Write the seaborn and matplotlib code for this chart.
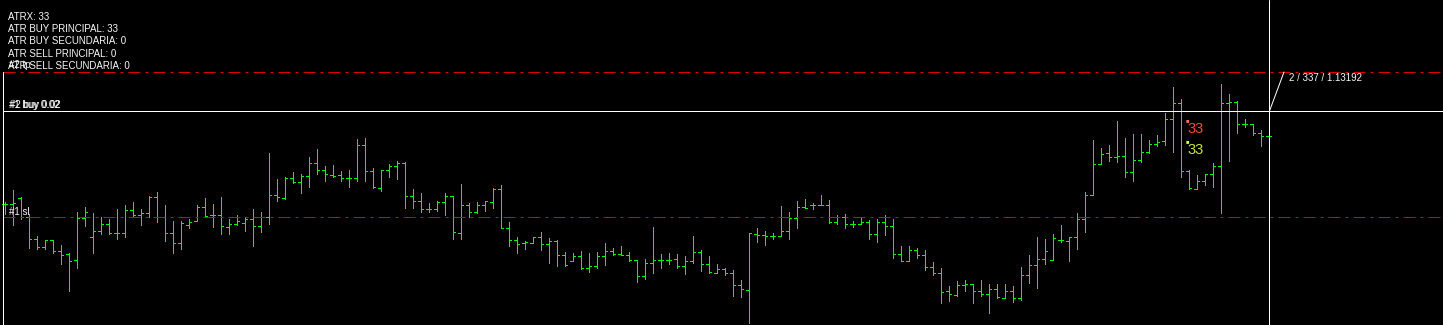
import numpy as np
import pandas as pd
import seaborn as sns
import matplotlib
matplotlib.use("Agg")
import matplotlib.pyplot as plt

# ---- data: prices in points (1 point = 0.00001) ----
high = [113101,113113,113106,113089,113067,113063,113063,113058,113050,113091,
        113096,113090,113086,113084,113094,113098,113101,113094,113107,113111,
        113098,113082,113082,113084,113098,113105,113099,113106,113084,113088,
        113086,113094,113091,113150,113124,113126,113131,113129,113146,113154,
        113137,113138,113132,113133,113164,113165,113135,113133,113139,113142,
        113141,113114,113110,113100,113102,113110,113107,113119,113100,113101,
        113102,113115,113118,113081,113066,113062,113066,113071,113065,113063,
        113051,113050,113052,113050,113051,113060,113055,113057,113051,113043,
        113044,113076,113049,113050,113049,113047,113067,113053,113047,113039,
        113035,113033,113023,113070,113075,113072,113070,113097,113091,113102,
        113104,113100,113108,113103,113088,113089,113082,113086,113083,113084,
        113088,113084,113057,113057,113055,113053,113041,113035,113017,113022,
        113023,113019,113023,113019,113019,113019,113017,113036,113048,113066,
        113064,113069,113078,113066,113090,113111,113163,113155,113158,113182,
        113165,113169,113169,113163,113168,113190,113216,113204,113133,113128,
        113129,113140,113219,113209,113202,113184,113179,113173,113167]
low = [113089,113078,113084,113055,113054,113054,113050,113039,113012,113035,
       113077,113050,113069,113069,113064,113066,113086,113078,113086,113081,
       113062,113050,113054,113075,113082,113086,113076,113069,113069,113078,
       113072,113057,113071,113079,113102,113104,113120,113110,113116,113129,
       113122,113126,113122,113116,113122,113122,113115,113112,113126,113124,
       113095,113095,113091,113091,113092,113088,113064,113064,113086,113090,
       113092,113095,113075,113057,113050,113054,113060,113053,113040,113037,
       113037,113042,113034,113031,113035,113038,113048,113048,113042,113021,
       113024,113030,113035,113039,113035,113029,113040,113032,113030,113030,
       113028,113007,113006,112980,113061,113058,113064,113067,113064,113075,
       113095,113094,113098,113080,113079,113075,113076,113079,113064,113061,
       113068,113045,113042,113042,113045,113033,113028,113000,113002,113007,
       113012,113000,113007,112990,113005,113005,113001,113003,113020,113015,
       113039,113043,113061,113042,113054,113071,113108,113139,113142,113141,
       113126,113122,113141,113150,113157,113158,113151,113126,113114,113114,
       113118,113116,113090,113142,113170,113176,113168,113157,113167]
open_ = [113099,113099,113105,113086,113064,113056,113063,113052,113049,113043,
         113085,113066,113072,113079,113070,113070,113093,113088,113090,113106,
         113086,113070,113060,113078,113082,113096,113088,113088,113076,113079,
         113080,113084,113077,113086,113108,113105,113125,113121,113127,113140,
         113133,113128,113128,113125,113125,113158,113132,113115,113133,113137,
         113140,113107,113102,113094,113094,113101,113107,113070,113098,113091,
         113098,113101,113114,113075,113063,113060,113060,113066,113059,113062,
         113048,113042,113047,113035,113037,113047,113052,113049,113048,113043,
         113027,113040,113043,113043,113044,113037,113042,113051,113039,113030,
         113034,113030,113018,113013,113069,113068,113067,113067,113072,113085,
         113096,113098,113098,113098,113081,113086,113079,113079,113081,113069,
         113081,113077,113049,113042,113053,113048,113036,113030,113012,113008,
         113018,113019,113012,113009,113014,113005,113012,113005,113028,113038,
         113044,113043,113063,113062,113066,113084,113108,113139,113150,113146,
         113147,113131,113143,113151,113159,113162,113184,113200,113132,113114,
         113122,113129,113137,113200,113201,113179,113179,113170,113167]
close = [113099,113100,113086,113064,113056,113063,113052,113048,113042,113085,
         113091,113072,113079,113070,113070,113093,113088,113090,113106,113086,
         113070,113060,113080,113081,113096,113087,113088,113077,113079,113082,
         113084,113077,113086,113108,113106,113125,113121,113127,113140,113133,
         113129,113127,113125,113125,113158,113132,113116,113133,113137,113140,
         113107,113102,113094,113094,113101,113107,113071,113098,113091,113098,
         113102,113114,113075,113063,113059,113061,113066,113059,113062,113048,
         113038,113047,113035,113037,113047,113052,113049,113048,113043,113027,
         113040,113043,113043,113043,113037,113042,113051,113039,113031,113034,
         113030,113018,113014,113070,113068,113067,113067,113072,113085,113096,
         113095,113098,113098,113081,113086,113079,113079,113081,113069,113081,
         113077,113049,113042,113053,113048,113036,113030,113011,113009,113018,
         113019,113012,113009,113014,113006,113012,113005,113028,113038,113044,
         113052,113065,113063,113066,113084,113108,113139,113149,113146,113147,
         113131,113143,113151,113159,113161,113184,113200,113132,113115,113122,
         113129,113137,113200,113201,113179,113179,113170,113167,113167]

tp_level = 113231
buy_level = 113192
sl_level = 113086

labels_info = ["ATRX: 33", "ATR BUY PRINCIPAL: 33", "ATR BUY SECUNDARIA: 0",
               "ATR SELL PRINCIPAL: 0", "ATR SELL SECUNDARIA: 0"]
atr_buy_txt = "33"
atr_sell_txt = "33"
cursor_txt = "2 / 337 / 1.13192"

# ---- styling ----
sns.set_style("dark", {"axes.facecolor": "black", "figure.facecolor": "black"})
plt.rcParams["font.family"] = ["Liberation Sans", "DejaVu Sans"]
plt.rcParams["path.snap"] = True

W, H = 1443, 325
fig = plt.figure(figsize=(W / 100, H / 100), dpi=100)
ax = fig.add_axes([0, 0, 1, 1])
ax.set_facecolor("black")
ax.set_axis_off()

n = len(high)
idx = np.arange(n)
LW = 0.72
GREEN = "#00ff00"
TK = 0.36

hl = pd.DataFrame({"x": np.repeat(idx, 2).astype(float),
                   "y": np.column_stack([high, low]).ravel(),
                   "bar": np.repeat(idx, 2)})
op = pd.DataFrame({"x": np.column_stack([idx - TK, idx]).ravel(),
                   "y": np.repeat(open_, 2),
                   "bar": np.repeat(idx, 2)})
cl = pd.DataFrame({"x": np.column_stack([idx, idx + TK]).ravel(),
                   "y": np.repeat(close, 2),
                   "bar": np.repeat(idx, 2)})
for df in (hl, op, cl):
    sns.lineplot(data=df, x="x", y="y", units="bar", estimator=None, sort=False,
                 color=GREEN, lw=LW, ax=ax, legend=False,
                 solid_capstyle="projecting")

ax.set_xlim(-0.5625, (W - 4.5) / 8)
ax.set_ylim(113303 - H, 113303)

# levels
ax.axhline(tp_level, color="#e00000", lw=LW, dashes=(12, 5, 3, 5), xmin=3 / W)
ax.axhline(sl_level, color="#e00000", lw=LW, dashes=(12, 5, 3, 5), xmin=3 / W)
ax.axhline(buy_level, color="white", lw=LW, xmin=3 / W)

# cursor lines
ax.axvline((1269 - 4.5) / 8, color="white", lw=LW)
ax.axvline(-0.5625 + 3 / 8, color="white", lw=LW, ymax=1 - 72 / H)
fig.add_artist(plt.Line2D([1269.5 / W, 1284 / W], [1 - 111 / H, 1 - 72 / H],
                          color="white", lw=LW, transform=fig.transFigure))


def ftext(x, y, s, **kw):
    fig.text(x / W, 1 - y / H, s, va="center", ha="left", **kw)


TXT = "#f8f8f8"
FS = 7.0
for i, s in enumerate(labels_info):
    ftext(8, 17 + i * 12.2, s, color=TXT, fontsize=FS)
ftext(9, 65, "#2 tp", color=TXT, fontsize=FS)
ftext(9, 105, "#1 buy 0.02", color=TXT, fontsize=FS)
ftext(9.5, 105, "#2 buy 0.02", color=TXT, fontsize=FS)
ftext(9, 212, "#1 sl", color=TXT, fontsize=FS, zorder=10)
ftext(1289, 78, cursor_txt, color=TXT, fontsize=FS)

ftext(1187, 129, atr_sell_txt, color="#f04a32", fontsize=10.5)
ftext(1187, 150, atr_buy_txt, color="#c8e63c", fontsize=10.5)
fig.text(1187.5 / W, 1 - 120.5 / H, "\u25A0", color="#ff7060", fontsize=4, ha="center", va="center")
fig.text(1187.5 / W, 1 - 141.5 / H, "\u25A0", color="#d8ff40", fontsize=4, ha="center", va="center")

fig.savefig("out.png", dpi=100, facecolor="black")
